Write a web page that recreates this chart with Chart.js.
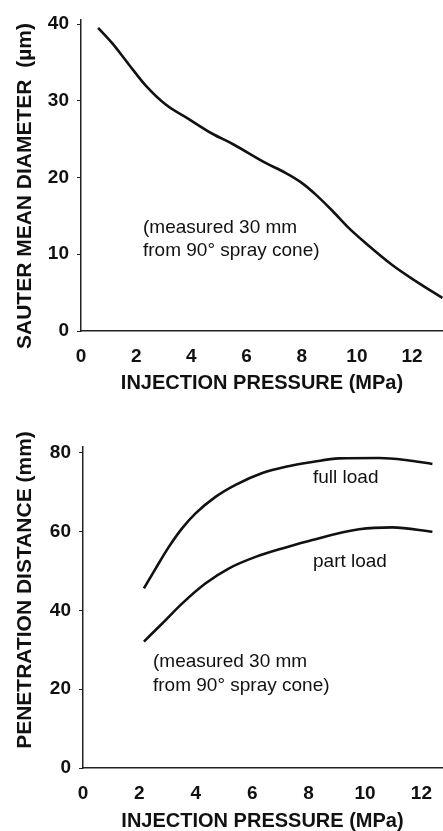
<!DOCTYPE html>
<html>
<head>
<meta charset="utf-8">
<script src="https://cdn.jsdelivr.net/npm/chart.js@4.4.0/dist/chart.umd.min.js"></script>
<style>
  body { margin: 0; background: #fff; }
  canvas { display: block; }
</style>
</head>
<body>
<canvas id="sauterChart" width="443" height="400"></canvas>
<canvas id="penetrationChart" width="443" height="431"></canvas>
<script>
// tick labels
const pressureTicks = [0, 2, 4, 6, 8, 10, 12];
const diameterTicks = [0, 10, 20, 30, 40];
const distanceTicks = [0, 20, 40, 60, 80];

// Sauter mean diameter (um) vs injection pressure (MPa)
const sauterPressure = [0.62, 1.13, 1.74, 2.34, 3.07, 3.91, 4.76, 5.48, 6.69, 7.41, 8.0, 8.5, 9.1, 9.71, 10.3, 11.28, 12.13, 13.1];
const sauterDiameter = [39.5, 37.5, 34.7, 32.0, 29.5, 27.6, 25.7, 24.4, 21.9, 20.6, 19.3, 17.8, 15.7, 13.4, 11.5, 8.6, 6.5, 4.3];

// penetration distance (mm) vs injection pressure (MPa)
const fullLoadPressure = [2.16, 2.58, 3.05, 3.52, 4.0, 4.71, 5.41, 6.36, 7.19, 8.13, 9.08, 10.5, 11.44, 12.39];
const fullLoadDistance = [45.6, 50.7, 56.2, 60.9, 64.7, 68.9, 71.9, 74.9, 76.5, 77.7, 78.6, 78.7, 78.2, 77.2];
const partLoadPressure = [2.16, 2.81, 3.52, 4.35, 5.18, 6.12, 7.19, 8.13, 9.79, 10.97, 12.39];
const partLoadDistance = [32.1, 36.7, 41.8, 46.9, 50.7, 53.6, 56.0, 57.9, 60.6, 61.1, 60.0];

const FONT = '"Liberation Sans", Arial, Helvetica, sans-serif';
const INK = '#111';

function points(xs, ys) {
    return xs.map((x, i) => ({ x: x, y: ys[i] }));
}

function lineSet(xs, ys) {
    return {
        data: points(xs, ys),
        borderColor: INK,
        borderWidth: 2.6,
        pointRadius: 0,
        fill: false,
        cubicInterpolationMode: 'monotone'
    };
}

// draws the rotated y title and the free text notes
const notesPlugin = {
    id: 'notes',
    afterDraw(chart, args, opts) {
        const c = chart.ctx;
        c.save();
        c.fillStyle = INK;
        c.textBaseline = 'middle';
        c.font = '19px ' + FONT;
        opts.lines.forEach(l => c.fillText(l.text, l.x, l.y));
        c.font = 'bold 21px ' + FONT;
        c.textAlign = 'center';
        c.translate(opts.yTitle.x, opts.yTitle.y);
        c.rotate(-Math.PI / 2);
        c.fillText(opts.yTitle.text, 0, 0);
        c.restore();
    }
};

function makeChart(id, datasets, cfg) {
    return new Chart(document.getElementById(id), {
        type: 'line',
        data: { datasets: datasets },
        plugins: [notesPlugin],
        options: {
            responsive: false,
            animation: false,
            layout: { padding: { top: cfg.top, right: cfg.right, left: 0, bottom: 0 } },
            plugins: {
                legend: { display: false },
                tooltip: { enabled: false },
                notes: { lines: cfg.notes, yTitle: cfg.yTitle }
            },
            scales: {
                x: {
                    type: 'linear',
                    min: 0,
                    max: cfg.xMax,
                    afterBuildTicks: s => { s.ticks = pressureTicks.map(v => ({ value: v })); },
                    afterFit: s => { s.height = cfg.xHeight; },
                    grid: { display: false },
                    border: { display: true, color: '#222', width: 1.5 },
                    ticks: { color: INK, padding: 6, maxRotation: 0, font: { family: FONT, size: 19, weight: 'bold' } },
                    title: {
                        display: true,
                        text: 'INJECTION PRESSURE (MPa)',
                        color: INK,
                        padding: { top: 0, bottom: cfg.xTitlePad },
                        font: { family: FONT, size: 20, weight: 'bold' }
                    }
                },
                y: {
                    type: 'linear',
                    min: 0,
                    max: cfg.yMax,
                    afterBuildTicks: s => { s.ticks = cfg.yTicks.map(v => ({ value: v })); },
                    afterFit: s => { s.width = cfg.yWidth; },
                    grid: { display: true, drawOnChartArea: false, drawTicks: true, tickLength: 4, color: '#222' },
                    border: { display: true, color: '#222', width: 1.5 },
                    ticks: { color: INK, padding: 8, font: { family: FONT, size: 19, weight: 'bold' } }
                }
            }
        }
    });
}

makeChart('sauterChart', [lineSet(sauterPressure, sauterDiameter)], {
    top: 10, right: 0, xMax: 13.12, yMax: 40.6, xHeight: 69, yWidth: 81, xTitlePad: 5,
    yTicks: diameterTicks,
    yTitle: { text: 'SAUTER MEAN DIAMETER  (\u00b5m)', x: 25, y: 186 },
    notes: [
        { text: '(measured 30 mm', x: 143, y: 228 },
        { text: 'from 90\u00b0 spray cone)', x: 143, y: 251 }
    ]
});

makeChart('penetrationChart', [lineSet(fullLoadPressure, fullLoadDistance), lineSet(partLoadPressure, partLoadDistance)], {
    top: 47, right: 1, xMax: 12.73, yMax: 81.5, xHeight: 63, yWidth: 83, xTitlePad: -2,
    yTicks: distanceTicks,
    yTitle: { text: 'PENETRATION DISTANCE (mm)', x: 25, y: 190 },
    notes: [
        { text: 'full load', x: 313, y: 78 },
        { text: 'part load', x: 313, y: 162 },
        { text: '(measured 30 mm', x: 153, y: 262 },
        { text: 'from 90\u00b0 spray cone)', x: 153, y: 286 }
    ]
});
</script>
</body>
</html>
